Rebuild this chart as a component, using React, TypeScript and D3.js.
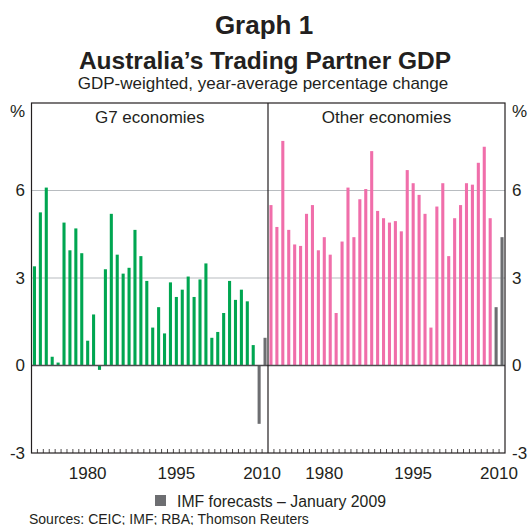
import React from 'react';
import * as d3 from 'd3';

// years 1971-2010, last two are IMF forecasts
const years = d3.range(1971, 2011);
const forecastYears = [2009, 2010];
const g7Growth = [
  3.4, 5.25, 6.1, 0.3, 0.1, 4.9, 3.95, 4.7, 3.85, 0.85, 1.75, -0.15, 3.3, 5.2, 3.8, 3.15, 3.35, 4.65, 3.75, 2.9,
  1.3, 2.0, 1.1, 2.85, 2.35, 2.6, 3.05, 2.35, 2.95, 3.5, 0.95, 1.15, 1.8, 2.9, 2.25, 2.6, 2.2, 0.7, -2.0, 0.95,
];
const otherGrowth = [
  5.5, 4.75, 7.7, 4.65, 4.15, 4.1, 5.2, 5.5, 3.95, 4.4, 3.8, 1.8, 4.25, 6.1, 4.4, 5.7, 6.05, 7.35, 5.3, 5.05,
  4.9, 4.95, 4.6, 6.7, 6.25, 5.85, 5.2, 1.3, 5.45, 6.25, 3.75, 5.05, 5.5, 6.25, 6.2, 6.95, 7.5, 5.05, 2.0, 4.4,
];
const yTicks = [-3, 0, 3, 6];
const yearLabels = [1980, 1995, 2010];
const panels = [
  { name: 'G7 economies', values: g7Growth, color: '#00a651' },
  { name: 'Other economies', values: otherGrowth, color: '#f06eaa' },
];

const W = 528;
const H = 525;
const left = 31.5;
const mid = 268;
const right = 505;
const top = 103;
const bottom = 453;
const font = 'Arial, "Liberation Sans", sans-serif';
const forecastColor = '#6d6e71';

export default function App() {
  const y = d3.scaleLinear().domain([-3, 9]).range([bottom, top]);

  return (
    <svg width={W} height={H} style={{ position: 'absolute', left: 0, top: 0 }} fontFamily={font}>
      <rect width={W} height={H} fill="#fff" />
      <text x={264} y={34} textAnchor="middle" fontSize={26} fontWeight="bold" fill="#231f20">
        Graph 1
      </text>
      <text x={265} y={69} textAnchor="middle" fontSize={24.5} fontWeight="bold" fill="#231f20">
        Australia’s Trading Partner GDP
      </text>
      <text x={263} y={89} textAnchor="middle" fontSize={17} fill="#231f20">
        GDP-weighted, year-average percentage change
      </text>

      {/* gridlines */}
      {[3, 6].map((t) => (
        <line key={t} x1={left} x2={right} y1={y(t)} y2={y(t)} stroke="#b8bcc0" strokeWidth={1.2} />
      ))}

      {panels.map((p, pi) => {
        const x0 = pi === 0 ? left : mid;
        const x1 = pi === 0 ? mid : right;
        const x = d3.scaleBand<number>().domain(years).range([x0, x1]).paddingInner(0.48).paddingOuter(0.24);
        const step = (x1 - x0) / years.length;
        return (
          <g key={p.name}>
            {years.map((yr, i) => {
              const v = p.values[i];
              const isF = forecastYears.includes(yr);
              return (
                <rect
                  key={yr}
                  x={x(yr)}
                  width={x.bandwidth()}
                  y={y(Math.max(0, v))}
                  height={Math.abs(y(v) - y(0))}
                  fill={isF ? forecastColor : p.color}
                />
              );
            })}
            {/* bottom ticks */}
            {years.slice(1).map((yr, i) => (
              <line
                key={yr}
                x1={x0 + step * (i + 1)}
                x2={x0 + step * (i + 1)}
                y1={bottom}
                y2={bottom - 4}
                stroke="#231f20"
                strokeWidth={0.8}
              />
            ))}
            {yearLabels.map((yr) => (
              <text
                key={yr}
                x={(x(yr) as number) + x.bandwidth() / 2 - (yr === 2010 ? 3 : 0)}
                y={479}
                textAnchor="middle"
                fontSize={17}
                fill="#231f20"
              >
                {yr}
              </text>
            ))}
            <text x={(x0 + x1) / 2} y={123} textAnchor="middle" fontSize={17} fill="#231f20">
              {p.name}
            </text>
          </g>
        );
      })}

      {/* zero line */}
      <line x1={left} x2={right} y1={y(0)} y2={y(0)} stroke="#4d4d4f" strokeWidth={1.5} />
      {/* frame */}
      <rect x={left} y={top} width={right - left} height={bottom - top} fill="none" stroke="#231f20" strokeWidth={1.2} />
      <line x1={mid} x2={mid} y1={top} y2={bottom} stroke="#231f20" strokeWidth={1.2} />

      {/* y axis labels both sides */}
      {yTicks.map((t) => (
        <g key={t} fontSize={17} fill="#231f20">
          <text x={25} y={y(t)} dy="0.35em" textAnchor="end">
            {t}
          </text>
          <text x={512} y={y(t)} dy="0.35em" textAnchor="start">
            {t}
          </text>
        </g>
      ))}
      <text x={25} y={117} textAnchor="end" fontSize={17} fill="#231f20">
        %
      </text>
      <text x={512} y={117} textAnchor="start" fontSize={17} fill="#231f20">
        %
      </text>

      {/* legend */}
      <rect x={155} y={495} width={11} height={11} fill={forecastColor} />
      <text x={177} y={507} fontSize={15.8} fill="#231f20">
        IMF forecasts – January 2009
      </text>
      <text x={29} y={523.5} fontSize={14} fill="#231f20">
        Sources: CEIC; IMF; RBA; Thomson Reuters
      </text>
    </svg>
  );
}
